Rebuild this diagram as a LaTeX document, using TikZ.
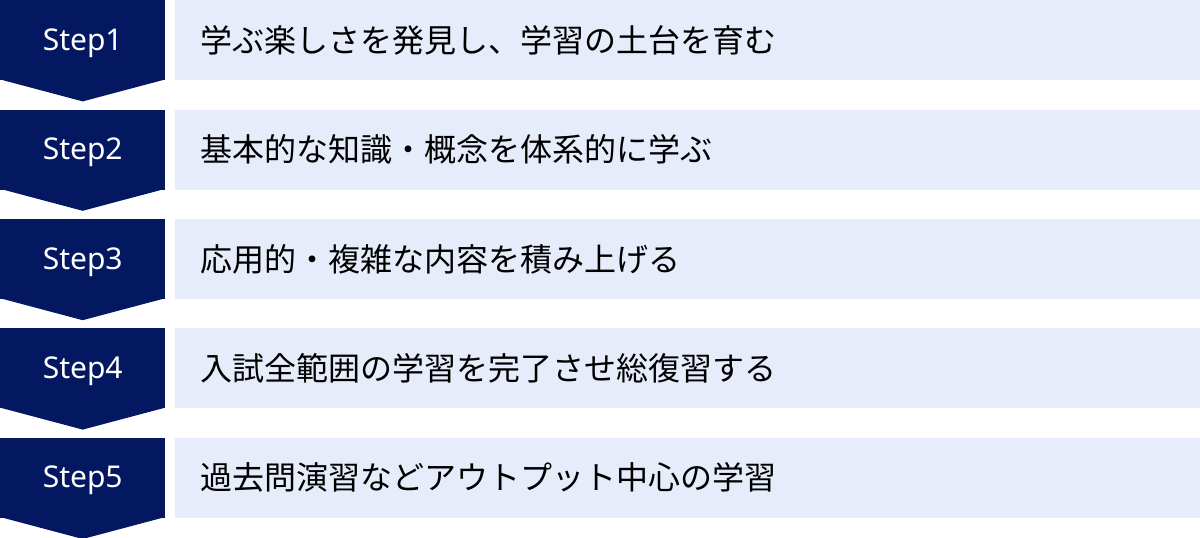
\documentclass[tikz,border=0pt]{standalone}
\usepackage{fontspec}
\setmainfont{Noto Sans CJK JP}
\newfontfamily\stepfont{Noto Sans}
\usetikzlibrary{positioning}
\definecolor{stepnavy}{RGB}{4,24,98}
\definecolor{rowblue}{RGB}{230,236,250}

\begin{document}
\begin{tikzpicture} [x=1pt, y=-1pt]
\tikzstyle{stepbox}=[rectangle, fill=stepnavy, text=white, minimum width=165pt, minimum height=80pt, inner sep=0pt, text height=20pt, text depth=0pt, font=\stepfont\fontsize{30}{36}\selectfont]
\tikzstyle{rowbox}=[rectangle, fill=rowblue, minimum height=80pt, text width=974pt, inner xsep=26pt, inner ysep=0pt, align=left, font=\fontsize{32}{38}\selectfont]
\tikzstyle{tip}=[fill=stepnavy]
\useasboundingbox (0,0) rectangle (1200,538);

\node [stepbox, anchor=north west] (s1) at (0,0) {Step1};
\node [rowbox, right=9pt of s1] (r1) {学ぶ楽しさを発見し、学習の土台を育む};
\fill [tip] ([yshift=1pt]s1.south west) -- ([yshift=1pt]s1.south east) -- ([yshift=-21pt]s1.south) -- cycle;

\node [stepbox, below=29pt of s1] (s2) {Step2};
\node [rowbox, right=9pt of s2] (r2) {基本的な知識・概念を体系的に学ぶ};
\fill [tip] ([yshift=1pt]s2.south west) -- ([yshift=1pt]s2.south east) -- ([yshift=-21pt]s2.south) -- cycle;

\node [stepbox, below=29pt of s2] (s3) {Step3};
\node [rowbox, right=9pt of s3] (r3) {応用的・複雑な内容を積み上げる};
\fill [tip] ([yshift=1pt]s3.south west) -- ([yshift=1pt]s3.south east) -- ([yshift=-21pt]s3.south) -- cycle;

\node [stepbox, below=29pt of s3] (s4) {Step4};
\node [rowbox, right=9pt of s4] (r4) {入試全範囲の学習を完了させ総復習する};
\fill [tip] ([yshift=1pt]s4.south west) -- ([yshift=1pt]s4.south east) -- ([yshift=-21pt]s4.south) -- cycle;

\node [stepbox, below=29pt of s4] (s5) {Step5};
\node [rowbox, right=9pt of s5] (r5) {過去問演習などアウトプット中心の学習};
\fill [tip] ([yshift=1pt]s5.south west) -- ([yshift=1pt]s5.south east) -- ([yshift=-21pt]s5.south) -- cycle;
\end{tikzpicture}
\end{document}
